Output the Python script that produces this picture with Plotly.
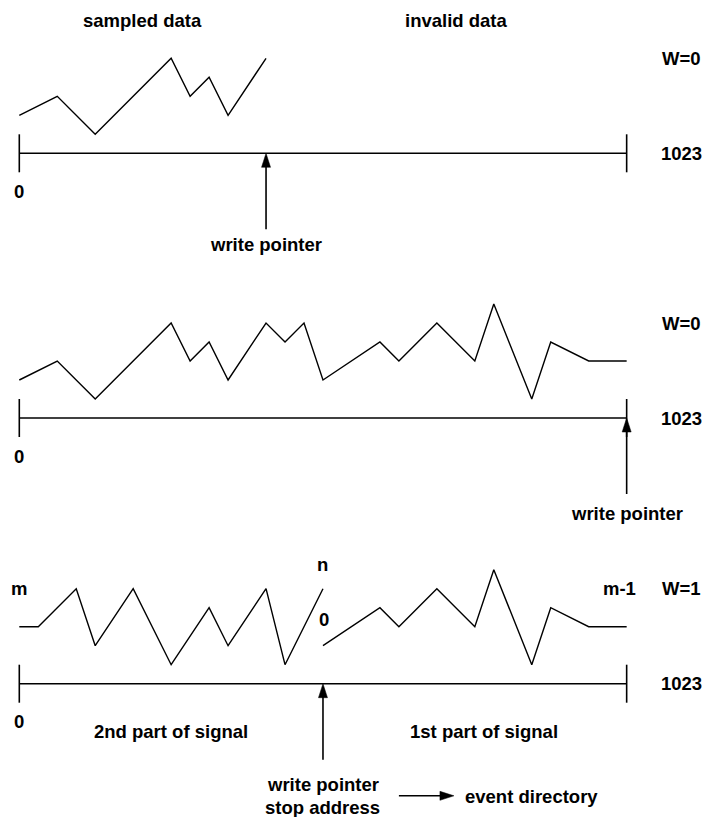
import plotly.graph_objects as go

# ---- data: waveform samples (x = sample slot, y = amplitude level) ----
p1_idx = [0, 2, 4, 8, 9, 10, 11, 13]
p1_lvl = [1, 2, 0, 4, 2, 3, 1, 4]

p2_idx = [0, 2, 4, 8, 9, 10, 11, 13, 14, 15, 16, 19, 20, 22, 24, 25, 27, 28, 30, 32]
p2_lvl = [1, 2, 0, 4, 2, 3, 1, 4, 3, 4, 1, 3, 2, 4, 2, 5, 0, 3, 2, 2]

p3a_idx = [0, 1, 3, 4, 6, 8, 10, 11, 13, 14, 16]
p3a_lvl = [2, 2, 4, 1, 4, 0, 3, 1, 4, 0, 4]
p3b_idx = [16, 19, 20, 22, 24, 25, 27, 28, 30, 32]
p3b_lvl = [1, 3, 2, 4, 2, 5, 0, 3, 2, 2]

buffer_ends = [0, 32]          # addresses 0 ... 1023
end_labels = ["0", "1023"]
write_ptr = [13, 32, 16]       # write pointer slot per panel
w_flags = ["W=0", "W=0", "W=1"]

# ---- layout geometry ----
W, H = 705, 817
XS, X0 = 18.98, 19.3           # px per slot, px of slot 0
YS = 19.0                      # px per level
P0 = [134.3, 399.0, 664.7]     # px (from top) of level 0 in each panel
AX_LVL = -1                    # level of buffer axis line
TAIL_LVL = -5
HL, HW = 14 / YS, 4.5 / XS     # arrow head length (levels) / half width (slots)
FONT = dict(family="Liberation Sans, Arial, sans-serif", size=18.5, color="black")
LW = 1.6

fig = go.Figure()
yaxes = ["y", "y2", "y3"]

def line(x, y, ya, width=LW):
    fig.add_trace(go.Scatter(x=x, y=y, yaxis=ya, mode="lines",
                             line=dict(color="black", width=width),
                             hoverinfo="skip", showlegend=False))

def tri(x, y, ya):
    fig.add_trace(go.Scatter(x=x, y=y, yaxis=ya, mode="lines", fill="toself",
                             fillcolor="black", line=dict(color="black", width=0.5),
                             hoverinfo="skip", showlegend=False))

def txt(x, y, ya, s, xanchor="center"):
    fig.add_annotation(x=x, y=y, xref="x", yref=ya, text="<b>%s</b>" % s,
                       showarrow=False, font=FONT, xanchor=xanchor, yanchor="middle")

waves = [[(p1_idx, p1_lvl)], [(p2_idx, p2_lvl)], [(p3a_idx, p3a_lvl), (p3b_idx, p3b_lvl)]]

for k in range(3):
    ya = yaxes[k]
    for xi, yl in waves[k]:
        line(xi, yl, ya, width=1.4)
    a, b = buffer_ends
    # buffer axis + end ticks
    line([a, b, None, a, a, None, b, b],
         [AX_LVL, AX_LVL, None, AX_LVL + 1, AX_LVL - 1, None, AX_LVL + 1, AX_LVL - 1], ya)
    # write pointer arrow
    wp = write_ptr[k]
    line([wp, wp], [AX_LVL - HL + 0.05, TAIL_LVL], ya)
    tri([wp - HW, wp, wp + HW, wp - HW],
        [AX_LVL - HL, AX_LVL, AX_LVL - HL, AX_LVL - HL], ya)
    # labels
    txt(a, -3, ya, end_labels[0])
    txt(34.9, AX_LVL, ya, end_labels[1])
    txt(34.9, 4, ya, w_flags[k])

# panel-specific labels
txt(6.5, 6.0, "y", "sampled data")
txt(23.0, 6.0, "y", "invalid data")
txt(13, -5.8, "y", "write pointer")
txt(32, -6.0, "y2", "write pointer")

txt(0, 4, "y3", "m")
txt(31.6, 4, "y3", "m-1")
txt(16, 5.3, "y3", "n")
txt(16.05, 2.4, "y3", "0")
txt(8.0, -3.5, "y3", "2nd part of signal")
txt(24.5, -3.5, "y3", "1st part of signal")
txt(16, -6.33, "y3", "write pointer")
txt(16, -7.5, "y3", "stop address")
txt(27.0, -6.95, "y3", "event directory")
# arrow to event directory
ev_y, ev_x0, ev_x1 = -6.9, 20.0, 22.9
line([ev_x0, ev_x1 - 0.5], [ev_y, ev_y], "y3")
tri([ev_x1 - 14 / XS, ev_x1, ev_x1 - 14 / XS, ev_x1 - 14 / XS],
    [ev_y + 4.5 / YS, ev_y, ev_y - 4.5 / YS, ev_y + 4.5 / YS], "y3")

xr = [-X0 / XS, (W - X0) / XS]
hidden = dict(visible=False, showgrid=False, zeroline=False, fixedrange=True)
layout = dict(
    width=W, height=H, margin=dict(l=0, r=0, t=0, b=0),
    paper_bgcolor="white", plot_bgcolor="white", showlegend=False,
    xaxis=dict(range=xr, domain=[0, 1], **hidden),
)
for k, name in enumerate(["yaxis", "yaxis2", "yaxis3"]):
    top = P0[k] / YS
    ax = dict(range=[top - H / YS, top], domain=[0, 1], **hidden)
    if k > 0:
        ax["overlaying"] = "y"
    layout[name] = ax
fig.update_layout(**layout)

fig.write_html("out.html", config={"displayModeBar": False},
               post_script="document.body.style.margin='0';")
